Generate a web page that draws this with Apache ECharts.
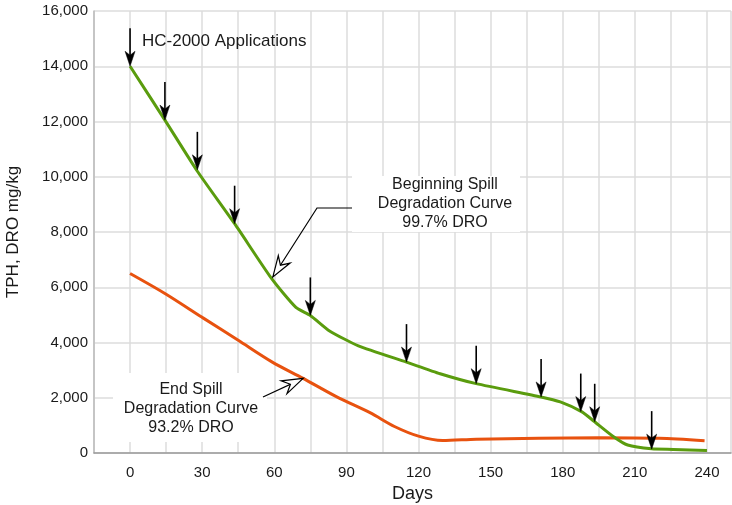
<!DOCTYPE html>
<html>
<head>
<meta charset="utf-8">
<script src="https://cdn.jsdelivr.net/npm/echarts@6/dist/echarts.min.js"></script>
<style>
html, body { margin: 0; padding: 0; background: #fff; }
#main { width: 732px; height: 505px; }
</style>
</head>
<body>
<div id="main"></div>
<script>
// days and TPH/DRO values
var beginDays = [0, 14.5, 28, 43.5, 59, 69, 75, 83, 95, 115, 129, 144, 171, 179, 188, 193, 201, 207, 217, 226, 240];
var beginVals = [14000, 12050, 10200, 8300, 6300, 5270, 4980, 4420, 3880, 3290, 2870, 2510, 2030, 1850, 1490, 1150, 600, 290, 150, 130, 90];

var endDays = [0, 15, 30, 45, 59, 72, 86, 100, 110, 120, 130, 144, 170, 195, 220, 239];
var endVals = [6500, 5750, 4910, 4080, 3300, 2700, 2030, 1450, 960, 610, 450, 500, 530, 550, 530, 445];

// HC-2000 application days (arrows), tip sits on the green curve
var appDays = [0, 14.5, 28, 43.5, 75, 115, 144, 171, 187.5, 193.3, 217];
var appVals = [14000, 12050, 10250, 8300, 4980, 3290, 2510, 2030, 1500, 1130, 140];

var yTicks = [0, 2000, 4000, 6000, 8000, 10000, 12000, 14000, 16000];

var font = 'Liberation Sans, Arial, sans-serif';
var green = '#5a9c0e';
var orange = '#e8520f';

function zip(a, b) {
	var out = [];
	for (var i = 0; i < a.length; i++) out.push([a[i], b[i]]);
	return out;
}

var chart = echarts.init(document.getElementById('main'));

var option = {
	animation: false,
	grid: { left: 94, right: 1, top: 11, bottom: 52, outerBoundsMode: 'none', containLabel: false },
	xAxis: {
		type: 'value',
		min: -15,
		max: 250,
		interval: 15,
		name: 'Days',
		nameLocation: 'middle',
		nameGap: 32,
		nameTextStyle: { fontFamily: font, fontSize: 18, color: '#1a1a1a' },
		axisLine: { show: true, onZero: false, lineStyle: { color: '#999', width: 1.5 } },
		axisTick: { show: false },
		axisLabel: {
			fontFamily: font, fontSize: 15, color: '#1a1a1a', margin: 12,
			formatter: function (v) {
				if (v >= 0 && v <= 240 && v % 30 == 0) return String(v);
				return '';
			}
		},
		splitLine: { show: true, lineStyle: { color: '#dcdcdc', width: 1.5 } }
	},
	yAxis: {
		type: 'value',
		min: yTicks[0],
		max: yTicks[yTicks.length - 1],
		interval: 2000,
		name: 'TPH, DRO mg/kg',
		nameLocation: 'middle',
		nameGap: 72,
		nameTextStyle: { fontFamily: font, fontSize: 17, color: '#1a1a1a' },
		axisLine: { show: true, onZero: false, lineStyle: { color: '#bbb', width: 1.5 } },
		axisTick: { show: false },
		axisLabel: {
			fontFamily: font, fontSize: 15, color: '#1a1a1a', margin: 6,
			formatter: function (v) { return v.toLocaleString('en-US'); }
		},
		splitLine: { show: true, lineStyle: { color: '#dcdcdc', width: 1.5 } }
	},
	series: [
		{
			name: 'End Spill',
			type: 'line',
			data: zip(endDays, endVals),
			smooth: 0.3,
			showSymbol: false,
			lineStyle: { color: orange, width: 3 },
			z: 3
		},
		{
			name: 'Beginning Spill',
			type: 'line',
			data: zip(beginDays, beginVals),
			smooth: 0.2,
			showSymbol: false,
			lineStyle: { color: green, width: 3 },
			z: 4
		},
		{
			name: 'HC-2000',
			type: 'custom',
			data: zip(appDays, appVals),
			z: 6,
			renderItem: function (params, api) {
				var p = api.coord([api.value(0), api.value(1)]);
				var x = p[0], y = p[1];
				return {
					type: 'group',
					children: [
						{ type: 'line', shape: { x1: x, y1: y - 38, x2: x, y2: y - 10 },
							style: { stroke: '#000', lineWidth: 1.6 } },
						{ type: 'polygon', shape: { points: [[x - 5, y - 15], [x, y - 11], [x + 5, y - 15], [x, y]] },
							style: { fill: '#000', stroke: '#000', lineWidth: 0.5 } }
					]
				};
			}
		}
	]
};
chart.setOption(option);

// open arrowhead pointing at (tx, ty) coming from (fx, fy)
function openArrow(fx, fy, tx, ty) {
	var a = Math.atan2(ty - fy, tx - fx);
	var c = Math.cos(a), s = Math.sin(a);
	function pt(u, v) { return [tx + u * c - v * s, ty + u * s + v * c]; }
	return {
		type: 'polygon',
		shape: { points: [pt(0, 0), pt(-21, 7), pt(-14, 0), pt(-21, -7)] },
		style: { fill: '#fff', stroke: '#000', lineWidth: 1.2 },
		z: 20
	};
}

var tipB = chart.convertToPixel({ gridIndex: 0 }, [beginDays[4], beginVals[4]]);
var tipE = chart.convertToPixel({ gridIndex: 0 }, [endDays[5], endVals[5]]);

var txtStyle = { fontFamily: font, fontSize: 16, fill: '#1a1a1a', align: 'center', verticalAlign: 'middle', lineHeight: 19 };

chart.setOption({
	graphic: [
		{ type: 'text', left: 142, top: 33, z: 20,
			style: { text: 'HC-2000 Applications', fontFamily: font, fontSize: 17, fill: '#1a1a1a' } },
		// beginning spill callout
		{ type: 'rect', shape: { x: 352, y: 176, width: 168, height: 56 }, style: { fill: '#fff' }, z: 15 },
		{ type: 'text', x: 445, y: 204, z: 20,
			style: Object.assign({ text: 'Beginning Spill\nDegradation Curve\n99.7% DRO' }, txtStyle) },
		{ type: 'polyline', z: 20,
			shape: { points: [[352, 208], [317, 208], [tipB[0] + 1, tipB[1] - 2]] },
			style: { stroke: '#000', lineWidth: 1.2, fill: null } },
		openArrow(317, 208, tipB[0] + 1, tipB[1] - 2),
		// end spill callout
		{ type: 'rect', shape: { x: 113, y: 373, width: 154, height: 69 }, style: { fill: '#fff' }, z: 15 },
		{ type: 'text', x: 191, y: 409, z: 20,
			style: Object.assign({ text: 'End Spill\nDegradation Curve\n93.2% DRO' }, txtStyle) },
		{ type: 'line', z: 20,
			shape: { x1: 263, y1: 397, x2: tipE[0], y2: tipE[1] },
			style: { stroke: '#000', lineWidth: 1.2 } },
		openArrow(263, 397, tipE[0], tipE[1])
	]
});
</script>
</body>
</html>
